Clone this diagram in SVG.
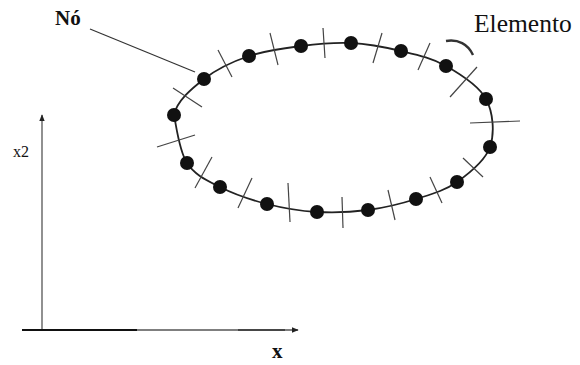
<svg xmlns="http://www.w3.org/2000/svg" width="580" height="365" viewBox="0 0 580 365">
<style>
.curve{fill:none;stroke:#222;stroke-width:1.8}
.tick{stroke:#444;stroke-width:1.2;fill:none}
.dot{fill:#111}
.lbl{font-family:"Liberation Serif","Times New Roman",serif;fill:#111}
.axis{stroke:#555;stroke-width:1.3;fill:none}
</style>
<defs>
<marker id="arr" viewBox="0 0 10 10" refX="9" refY="5" markerWidth="7" markerHeight="7" orient="auto" markerUnits="userSpaceOnUse">
<path d="M0,1 L10,5 L0,9 Z" fill="#222"/>
</marker>
</defs>
<rect width="580" height="365" fill="#fff"/>
<g id="connectors">
<path class="curve" d="M204,79 C191.5,88.8 176.8,101 174,115 C176.8,129 179.3,151 187,163 C194.7,175 206.7,180.2 220,187 C233.3,193.8 250.8,199.8 267,204 C283.2,208.2 300.2,211 317,212 C333.8,213 351.5,212.2 368,210 C384.5,207.8 401.2,203.7 416,199 C430.8,194.3 444.7,190.7 457,182 C469.3,173.3 485.2,160.8 490,147 C494.8,133.2 493.3,112.5 486,99 C478.7,85.5 460.2,74 446,66 C431.8,58 416.8,54.8 401,51 C385.2,47.2 367.7,43.8 351,43 C334.3,42.2 318,43.8 301,46 C284,48.2 265.2,50.5 249,56 C232.8,61.5 216.5,69.2 204,79 Z"/>
<g class="tick">
<line x1="218" y1="50" x2="232" y2="77"/>
<line x1="173" y1="88" x2="202" y2="107"/>
<line x1="157" y1="147" x2="195" y2="135"/>
<line x1="195" y1="188" x2="212" y2="157"/>
<line x1="238" y1="208" x2="252" y2="178"/>
<line x1="288" y1="183" x2="290" y2="222"/>
<line x1="342" y1="197" x2="343" y2="228"/>
<line x1="388" y1="190" x2="395" y2="220"/>
<line x1="430" y1="177" x2="442" y2="203"/>
<line x1="463" y1="158" x2="483" y2="177"/>
<line x1="470" y1="123" x2="520" y2="121"/>
<line x1="450" y1="97" x2="477" y2="67"/>
<line x1="418" y1="70" x2="430" y2="43"/>
<line x1="373" y1="63" x2="382" y2="33"/>
<line x1="323" y1="28" x2="325" y2="58"/>
<line x1="270" y1="33" x2="278" y2="65"/>
</g>
<line x1="90" y1="29" x2="195" y2="72" stroke="#333" stroke-width="1.2"/>
<path d="M446,41 C458,39 468,44 473,55" fill="none" stroke="#333" stroke-width="2.4"/>
<line class="axis" x1="42" y1="330" x2="42" y2="115" marker-end="url(#arr)"/>
<line class="axis" x1="22" y1="330" x2="298" y2="330" marker-end="url(#arr)"/>
<line x1="22" y1="330" x2="137" y2="330" stroke="#111" stroke-width="2"/>
<line x1="238" y1="330" x2="285" y2="330" stroke="#333" stroke-width="1.6"/>
</g>
<g id="nodes">
<g id="n1"><circle class="dot" cx="204" cy="79" r="7"/></g>
<g id="n2"><circle class="dot" cx="174" cy="115" r="7"/></g>
<g id="n3"><circle class="dot" cx="187" cy="163" r="7"/></g>
<g id="n4"><circle class="dot" cx="220" cy="187" r="7"/></g>
<g id="n5"><circle class="dot" cx="267" cy="204" r="7"/></g>
<g id="n6"><circle class="dot" cx="317" cy="212" r="7"/></g>
<g id="n7"><circle class="dot" cx="368" cy="210" r="7"/></g>
<g id="n8"><circle class="dot" cx="416" cy="199" r="7"/></g>
<g id="n9"><circle class="dot" cx="457" cy="182" r="7"/></g>
<g id="n10"><circle class="dot" cx="490" cy="147" r="7"/></g>
<g id="n11"><circle class="dot" cx="486" cy="99" r="7"/></g>
<g id="n12"><circle class="dot" cx="446" cy="66" r="7"/></g>
<g id="n13"><circle class="dot" cx="401" cy="51" r="7"/></g>
<g id="n14"><circle class="dot" cx="351" cy="43" r="7"/></g>
<g id="n15"><circle class="dot" cx="301" cy="46" r="7"/></g>
<g id="n16"><circle class="dot" cx="249" cy="56" r="7"/></g>
</g>
<g id="labels">
<text id="lbl-no" class="lbl" x="55" y="25" font-size="21" font-weight="bold" fill="#444">Nó</text>
<text id="lbl-elemento" class="lbl" x="474" y="32" font-size="25.5">Elemento</text>
<text id="lbl-x2" class="lbl" x="13" y="157" font-size="16" fill="#333">x2</text>
<text id="lbl-x" class="lbl" x="272" y="358" font-size="21" font-weight="bold">x</text>
</g>
</svg>
